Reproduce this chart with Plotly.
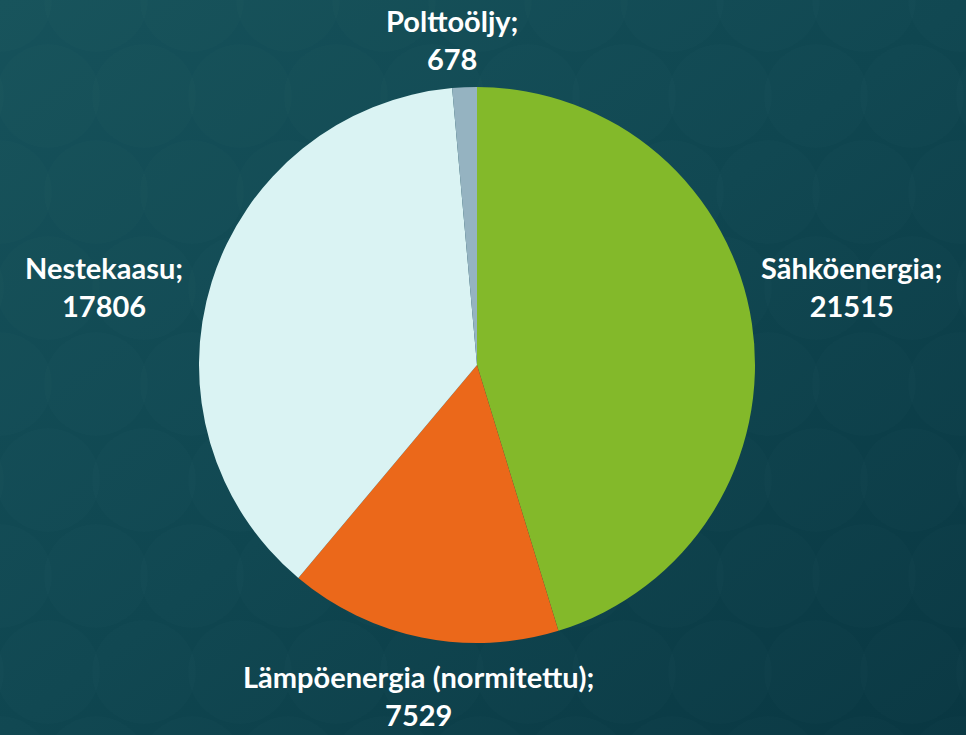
import plotly.graph_objects as go
import urllib.parse

categories = ["Sähköenergia", "Lämpöenergia (normitettu)", "Nestekaasu", "Polttoöljy"]
values = [21515, 7529, 17806, 678]
colors = ["#83B92A", "#EB681A", "#DAF3F3", "#95B3C1"]

W, H = 966, 735
cx, cy, r = 477, 365, 278

# background SVG: gradient plus faint circle pattern
circles = []
for row in range(-1, 9):
    for col in range(-1, 11):
        x = col * 96 + (48 if row % 2 else 0)
        y = row * 96
        circles.append(f'<circle cx="{x}" cy="{y}" r="52" fill="#ffffff" fill-opacity="0.012"/>')
svg = (
    f'<svg xmlns="http://www.w3.org/2000/svg" width="{W}" height="{H}" viewBox="0 0 {W} {H}">'
    '<defs><linearGradient id="g" x1="0" y1="0" x2="1" y2="1">'
    '<stop offset="0" stop-color="#16525B"/><stop offset="0.5" stop-color="#0F4650"/>'
    '<stop offset="1" stop-color="#093742"/></linearGradient></defs>'
    f'<rect width="{W}" height="{H}" fill="url(#g)"/>' + "".join(circles) + '</svg>'
)
src = "data:image/svg+xml;charset=utf-8," + urllib.parse.quote(svg)

fig = go.Figure(go.Pie(
    labels=categories,
    values=values,
    sort=False,
    direction="clockwise",
    rotation=0,
    marker=dict(colors=colors, line=dict(width=0)),
    textinfo="none",
    hoverinfo="label+value",
    showlegend=False,
    domain=dict(x=[(cx - r) / W, (cx + r) / W], y=[(H - cy - r) / H, (H - cy + r) / H]),
))

label_pos = [(851, 286), (418, 695), (104, 286), (452, 40)]
annotations = []
for cat, val, (x, y) in zip(categories, values, label_pos):
    annotations.append(dict(
        x=x / W, y=1 - y / H, xref="paper", yref="paper",
        text=f"{cat};<br>{val}", showarrow=False, align="center",
        xanchor="center", yanchor="middle",
        font=dict(family="Lato", size=29, color="#FFFFFF", weight="bold"),
    ))

fig.update_layout(
    width=W, height=H,
    margin=dict(l=0, r=0, t=0, b=0),
    paper_bgcolor="#0F4650",
    plot_bgcolor="#0F4650",
    images=[dict(source=src, xref="paper", yref="paper", x=0, y=1, sizex=1, sizey=1,
                 xanchor="left", yanchor="top", sizing="stretch", layer="below")],
    annotations=annotations,
)

fig.write_html("out.html", config={"displayModeBar": False},
               post_script="document.body.style.margin='0';document.body.style.overflow='hidden';")
